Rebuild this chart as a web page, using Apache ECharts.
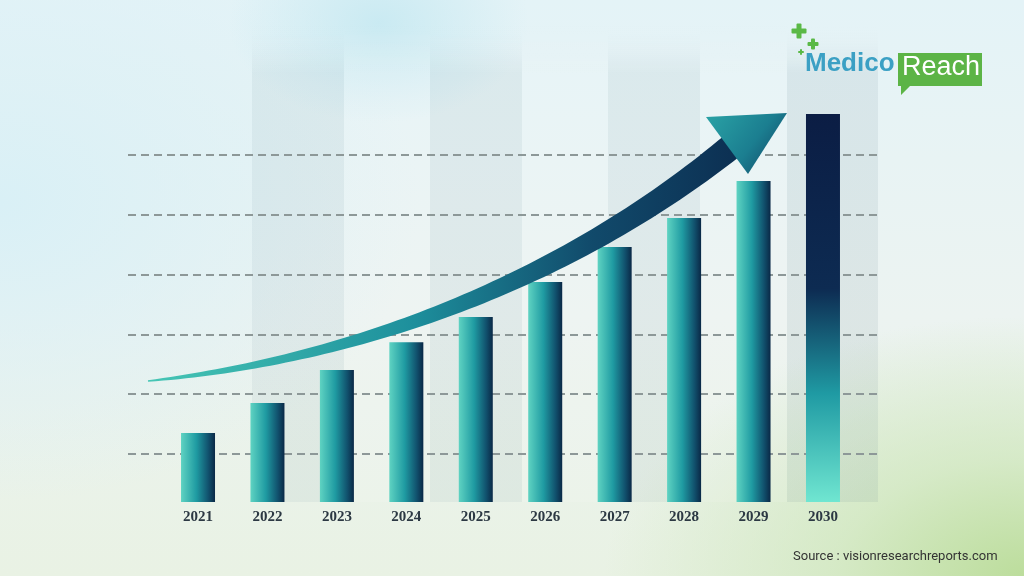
<!DOCTYPE html>
<html>
<head>
<meta charset="utf-8">
<script src="https://cdn.jsdelivr.net/npm/echarts@6/dist/echarts.min.js"></script>
<style>
html,body{margin:0;padding:0;width:1024px;height:576px;overflow:hidden;}
body{
background:
 radial-gradient(ellipse 420px 260px at 100% 100%, #bcdd9c 0%, rgba(205,230,185,0.7) 45%, rgba(225,240,225,0) 100%),
 radial-gradient(ellipse 150px 100px at 37% 4%, rgba(195,232,241,0.8) 0%, rgba(205,236,244,0) 100%),
 radial-gradient(ellipse 420px 300px at 0% 35%, #d9f0f6 0%, rgba(220,240,247,0) 100%),
 linear-gradient(180deg, #e4f3f7 0%, #ecf3f1 55%, #e9f2e4 100%);
}
#chart{width:1024px;height:576px;}
</style>
</head>
<body>
<div id="chart"></div>
<script>
// ---- data ----
const years = ['2021','2022','2023','2024','2025','2026','2027','2028','2029','2030'];
const marketValues = [17.8, 25.5, 34.0, 41.2, 47.7, 56.7, 65.7, 73.2, 82.7, 100];
const gridLevels = [0, 1, 2, 3, 4, 5];

const chart = echarts.init(document.getElementById('chart'), null, {renderer:'canvas'});

const barGrad = new echarts.graphic.LinearGradient(0,0,1,0,[
  {offset:0,color:'#5fd3c2'},{offset:0.45,color:'#1f9ba2'},{offset:0.8,color:'#11526e'},{offset:1,color:'#0a2846'}]);
const lastGrad = new echarts.graphic.LinearGradient(0,0,0,1,[
  {offset:0,color:'#0b1d44'},{offset:0.45,color:'#0d2b52'},{offset:0.72,color:'#1f9aa3'},{offset:1,color:'#70e6d1'}]);

// arrow shaft (decorative) computed from a cubic bezier
const P = [[148,381],[350,360],[560,285],[732,146]];
function bz(t){
  const u=1-t;
  return [u*u*u*P[0][0]+3*u*u*t*P[1][0]+3*u*t*t*P[2][0]+t*t*t*P[3][0],
          u*u*u*P[0][1]+3*u*u*t*P[1][1]+3*u*t*t*P[2][1]+t*t*t*P[3][1]];
}
function dbz(t){
  const u=1-t;
  return [3*u*u*(P[1][0]-P[0][0])+6*u*t*(P[2][0]-P[1][0])+3*t*t*(P[3][0]-P[2][0]),
          3*u*u*(P[1][1]-P[0][1])+6*u*t*(P[2][1]-P[1][1])+3*t*t*(P[3][1]-P[2][1])];
}
const up=[],lo=[];
for(let i=0;i<=80;i++){
  const t=i/80, p=bz(t), d=dbz(t), L=Math.hypot(d[0],d[1]);
  const nx=-d[1]/L, ny=d[0]/L, w=(1.5+24.5*Math.pow(t,0.85))/2;
  up.push([p[0]+nx*w,p[1]+ny*w]); lo.push([p[0]-nx*w,p[1]-ny*w]);
}
const shaftPts = up.concat(lo.reverse());

const bands = [[252,344,'rgba(110,140,155,0.09)'],[344,430,'rgba(255,255,255,0.10)'],
  [430,522,'rgba(110,140,155,0.09)'],[522,608,'rgba(255,255,255,0.10)'],
  [608,700,'rgba(110,140,155,0.09)'],[700,787,'rgba(255,255,255,0.10)'],
  [787,878,'rgba(110,140,150,0.12)']];

const graphics = bands.map(b=>({type:'rect',z:-10,silent:true,
  shape:{x:b[0],y:25,width:b[1]-b[0],height:477},
  style:{fill:new echarts.graphic.LinearGradient(0,0,0,1,[{offset:0,color:'rgba(255,255,255,0)'},{offset:0.1,color:b[2]},{offset:1,color:b[2]}])}}));

graphics.push({type:'polygon',z:100,shape:{points:shaftPts},
  style:{fill:new echarts.graphic.LinearGradient(0,0,1,0,[{offset:0,color:'#46c6b5'},{offset:0.45,color:'#1d8f9c'},{offset:0.75,color:'#114a6b'},{offset:1,color:'#0c2f52'}])}});
graphics.push({type:'polygon',z:101,shape:{points:[[706,117],[787,113],[748,174]]},
  style:{fill:new echarts.graphic.LinearGradient(0,0,1,1,[{offset:0,color:'#2aa3a6'},{offset:0.55,color:'#1b7e90'},{offset:1,color:'#0f3e60'}])}});

// logo
function plus(cx,cy,s,th){
  return {type:'group',z:120,children:[
    {type:'rect',shape:{x:cx-s/2,y:cy-th/2,width:s,height:th,r:1},style:{fill:'#5ab946'}},
    {type:'rect',shape:{x:cx-th/2,y:cy-s/2,width:th,height:s,r:1},style:{fill:'#5ab946'}}]};
}
graphics.push(plus(799,31,15,5));
graphics.push(plus(813,44,11,4));
graphics.push(plus(801,52,6,2));
graphics.push({type:'text',z:120,left:805,top:51,style:{text:'Medico',fill:'#3ba0c4',font:'bold 26px "Liberation Sans", Arial, sans-serif'}});
graphics.push({type:'polygon',z:119,shape:{points:[[898,53],[982,53],[982,86],[910,86],[901,95],[901,86],[898,86]]},style:{fill:'#5cb446'}});
graphics.push({type:'text',z:121,left:902,top:54,style:{text:'Reach',fill:'#ffffff',font:'500 27px "Liberation Sans", Arial, sans-serif'}});
graphics.push({type:'text',z:120,left:793,top:550,style:{text:'Source : visionresearchreports.com',fill:'#333',font:'13px Roboto, "Noto Sans", sans-serif'}});

const option = {
  backgroundColor:'transparent',
  animation:false,
  grid:[
    {left:163.3, right:166.3, top:114, bottom:74},
    {left:128, right:147, top:155, bottom:122}
  ],
  xAxis:[
    {type:'category', gridIndex:0, data:years, axisLine:{show:false}, axisTick:{show:false},
     axisLabel:{margin:8, color:'#2c3843', fontFamily:'"Liberation Serif", "DejaVu Serif", serif', fontWeight:'bold', fontSize:15}},
    {type:'value', gridIndex:1, show:false, min:0, max:1}
  ],
  yAxis:[
    {type:'value', gridIndex:0, min:0, max:100, show:false, splitLine:{show:false}},
    {type:'value', gridIndex:1, min:gridLevels[0], max:gridLevels[gridLevels.length-1], interval:1,
     axisLine:{show:false}, axisTick:{show:false}, axisLabel:{show:false},
     splitLine:{show:true, lineStyle:{type:[8,5], color:'#8d9898', width:2}}}
  ],
  series:[{
    type:'bar', xAxisIndex:0, yAxisIndex:0, barWidth:34, z:5,
    data: marketValues.map((v,i)=>({value:v, itemStyle:{color: i===marketValues.length-1 ? lastGrad : barGrad}}))
  }],
  graphic: graphics
};
chart.setOption(option);
</script>
</body>
</html>
